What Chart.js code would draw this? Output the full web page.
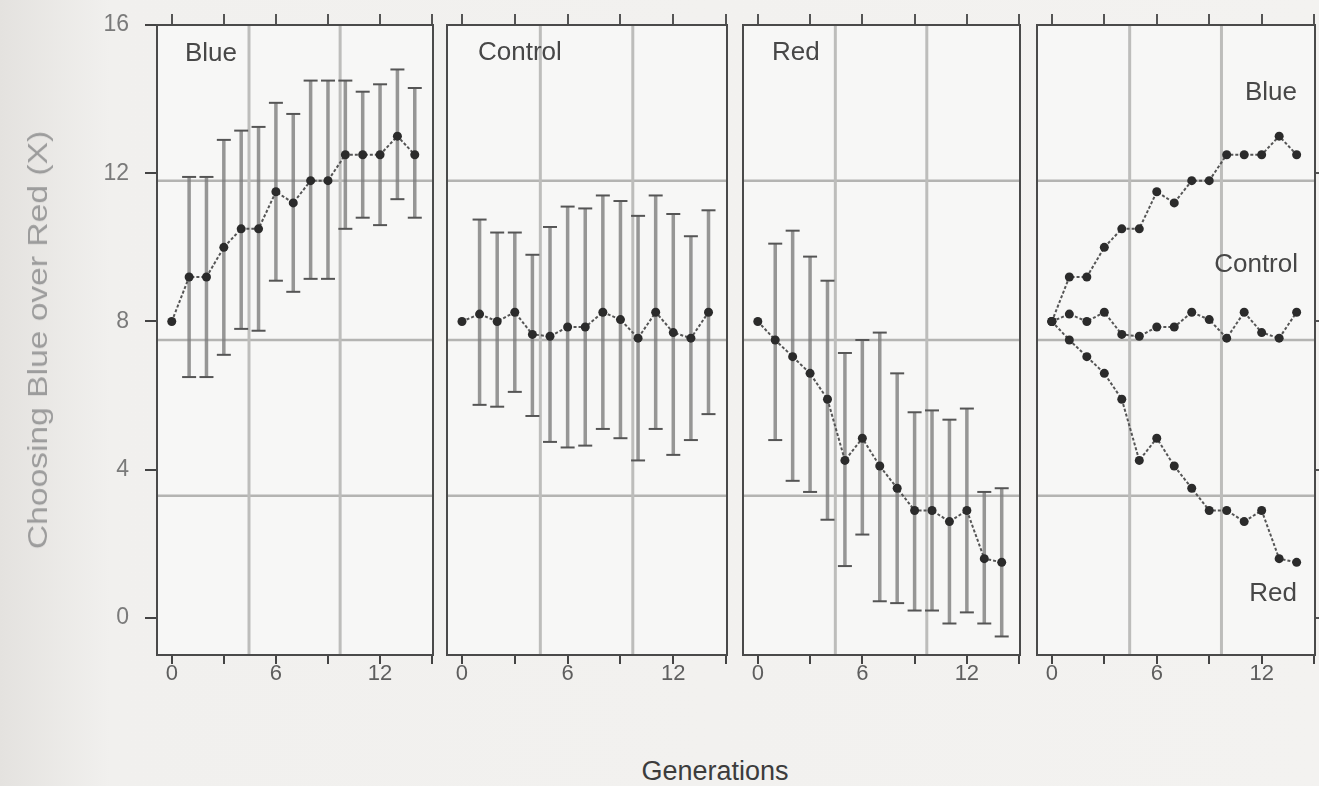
<!DOCTYPE html>
<html lang="en">
<head>
<meta charset="UTF-8">
<title>Choosing Blue over Red across generations</title>
<script src="https://cdn.jsdelivr.net/npm/chart.js"></script>
<style>
  body { margin: 0; padding: 0; width: 1319px; height: 786px; overflow: hidden;
         background: linear-gradient(to right, #e4e2df 0px, #f1f0ee 110px, #f3f2f0 100%);
         font-family: "Liberation Sans", Arial, sans-serif; }
  canvas { position: absolute; top: 0; }
  #yTitle { position: absolute; left: 38px; top: 340px; white-space: nowrap;
            font-size: 28px; color: #9c9c9c;
            transform: translate(-50%, -50%) rotate(-90deg) scaleX(1.2); }
  #xTitle { position: absolute; left: 715px; top: 771px; white-space: nowrap;
            font-size: 27px; color: #3c3c3c; transform: translate(-50%, -50%); }
</style>
</head>
<body>
<canvas id="p1" width="445" height="700" style="left:0px"></canvas>
<canvas id="p2" width="300" height="700" style="left:437px"></canvas>
<canvas id="p3" width="297" height="700" style="left:733px"></canvas>
<canvas id="p4" width="300" height="700" style="left:1027px"></canvas>
<div id="yTitle">Choosing Blue over Red (X)</div>
<div id="xTitle">Generations</div>

<script>
// generations 0..14
const generations = [0, 1, 2, 3, 4, 5, 6, 7, 8, 9, 10, 11, 12, 13, 14];

const blueMean = [8.0, 9.2, 9.2, 10.0, 10.5, 10.5, 11.5, 11.2, 11.8, 11.8, 12.5, 12.5, 12.5, 13.0, 12.5];
const blueLo   = [null, 6.5, 6.5, 7.1, 7.8, 7.75, 9.1, 8.8, 9.15, 9.15, 10.5, 10.8, 10.6, 11.3, 10.8];
const blueHi   = [null, 11.9, 11.9, 12.9, 13.15, 13.25, 13.9, 13.6, 14.5, 14.5, 14.5, 14.2, 14.4, 14.8, 14.3];

const controlMean = [8.0, 8.2, 8.0, 8.25, 7.65, 7.6, 7.85, 7.85, 8.25, 8.05, 7.55, 8.25, 7.7, 7.55, 8.25];
const controlLo   = [null, 5.75, 5.7, 6.1, 5.45, 4.75, 4.6, 4.65, 5.1, 4.85, 4.25, 5.1, 4.4, 4.8, 5.5];
const controlHi   = [null, 10.75, 10.4, 10.4, 9.8, 10.55, 11.1, 11.05, 11.4, 11.25, 10.85, 11.4, 10.9, 10.3, 11.0];

const redMean = [8.0, 7.5, 7.05, 6.6, 5.9, 4.25, 4.85, 4.1, 3.5, 2.9, 2.9, 2.6, 2.9, 1.6, 1.5];
const redLo   = [null, 4.8, 3.7, 3.4, 2.65, 1.4, 2.25, 0.45, 0.4, 0.2, 0.2, -0.15, 0.15, -0.15, -0.5];
const redHi   = [null, 10.1, 10.45, 9.75, 9.1, 7.15, 7.5, 7.7, 6.6, 5.55, 5.6, 5.35, 5.65, 3.4, 3.5];

// axis ticks
const xTicks = [0, 3, 6, 9, 12, 15];
const xLabelled = [0, 6, 12];
const yTicks = [0, 4, 8, 12, 16];
const yRightTicks = [0, 4, 8, 12];

// reference lines crossing every panel
const hRefLines = [11.8, 7.5, 3.3];
const vRefLines = [4.45, 9.7];

const FONT = '"Liberation Sans", Arial, sans-serif';
const INK = '#444';

function toPoints(values) {
    return generations.map((g, i) => ({ x: g, y: values[i] }));
}

function meanDataset(values) {
    return {
        data: toPoints(values),
        borderColor: '#555',
        borderWidth: 2,
        borderDash: [3, 2],
        pointRadius: 4.5,
        pointBackgroundColor: '#2b2b2b',
        pointBorderColor: '#2b2b2b',
        pointBorderWidth: 0,
        tension: 0
    };
}

const backdrop = {
    id: 'backdrop',
    beforeDraw(chart) {
        const { ctx, chartArea: a, scales } = chart;
        ctx.save();
        ctx.fillStyle = '#f7f7f6';
        ctx.fillRect(a.left, a.top, a.right - a.left, a.bottom - a.top);
        // reference lines
        ctx.strokeStyle = '#b4b4b2';
        ctx.lineWidth = 2.5;
        hRefLines.forEach(v => {
            const y = scales.y.getPixelForValue(v);
            ctx.beginPath(); ctx.moveTo(a.left, y); ctx.lineTo(a.right, y); ctx.stroke();
        });
        ctx.strokeStyle = '#bdbdbb';
        ctx.lineWidth = 3;
        vRefLines.forEach(v => {
            const x = scales.x.getPixelForValue(v);
            ctx.beginPath(); ctx.moveTo(x, a.top); ctx.lineTo(x, a.bottom); ctx.stroke();
        });
        ctx.restore();
    },
    beforeDatasetsDraw(chart) {
        const { ctx, chartArea: a } = chart;
        ctx.save();
        ctx.strokeStyle = '#4a4a4a';
        ctx.lineWidth = 2;
        ctx.strokeRect(a.left, a.top, a.right - a.left, a.bottom - a.top);
        ctx.restore();
    }
};

function errorBars(lo, hi) {
    return {
        id: 'errorBars',
        beforeDatasetsDraw(chart) {
            const { ctx, scales } = chart;
            ctx.save();
            generations.forEach((g, i) => {
                if (lo[i] == null) return;
                const x = scales.x.getPixelForValue(g);
                const y1 = scales.y.getPixelForValue(lo[i]);
                const y2 = scales.y.getPixelForValue(hi[i]);
                ctx.strokeStyle = 'rgba(125,125,125,0.8)';
                ctx.lineWidth = 3.5;
                ctx.beginPath(); ctx.moveTo(x, y1); ctx.lineTo(x, y2); ctx.stroke();
                ctx.strokeStyle = '#555';
                ctx.lineWidth = 2;
                [y1, y2].forEach(y => {
                    ctx.beginPath(); ctx.moveTo(x - 7, y); ctx.lineTo(x + 7, y); ctx.stroke();
                });
            });
            ctx.restore();
        }
    };
}

function panelText(labels) {
    return {
        id: 'panelText',
        afterDatasetsDraw(chart) {
            const { ctx, chartArea: a } = chart;
            ctx.save();
            ctx.font = '26px ' + FONT;
            ctx.fillStyle = '#474747';
            ctx.textBaseline = 'middle';
            labels.forEach(l => {
                if (l.align === 'right') {
                    ctx.textAlign = 'right';
                    ctx.fillText(l.text, a.right - l.dx, a.top + l.dy);
                } else {
                    ctx.textAlign = 'left';
                    ctx.fillText(l.text, a.left + l.dx, a.top + l.dy);
                }
            });
            ctx.restore();
        }
    };
}

function setTicks(list) {
    return scale => { scale.ticks = list.map(v => ({ value: v })); };
}

function makePanel(id, datasets, plugins, opt) {
    const scales = {
        x: {
            type: 'linear', position: 'bottom', min: -0.85, max: 15.05,
            afterBuildTicks: setTicks(xTicks),
            afterFit: s => { s.height = 45; s.paddingLeft = 0; s.paddingRight = 0; },
            grid: { drawOnChartArea: false, drawTicks: true, tickLength: 9, color: INK, lineWidth: 2 },
            border: { display: true, color: INK, width: 2 },
            ticks: {
                color: '#5e5e5e', font: { size: 22, family: FONT }, padding: -3,
                maxRotation: 0, autoSkip: false,
                callback: v => xLabelled.includes(v) ? String(v) : ''
            }
        },
        xTop: {
            type: 'linear', position: 'top', min: -0.85, max: 15.05,
            afterBuildTicks: setTicks(xTicks),
            afterFit: s => { s.height = 25; s.paddingLeft = 0; s.paddingRight = 0; },
            grid: { drawOnChartArea: false, drawTicks: true, tickLength: 11, color: '#555', lineWidth: 2 },
            border: { display: true, color: INK, width: 2 },
            ticks: { display: false }
        },
        y: {
            type: 'linear', min: -1, max: 16,
            afterBuildTicks: setTicks(yTicks),
            display: false
        }
    };
    if (opt.yLeft) {
        Object.assign(scales.y, {
            display: true, position: 'left',
            afterFit: s => { s.width = 157; s.paddingTop = 0; s.paddingBottom = 0; },
            grid: { drawOnChartArea: false, drawTicks: true, tickLength: 12, color: INK, lineWidth: 2 },
            border: { display: true, color: INK, width: 2 },
            ticks: { color: '#7a7a7a', font: { size: 23, family: FONT }, padding: 16 }
        });
    }
    if (opt.yRight) {
        Object.assign(scales.y, {
            display: true, position: 'right',
            afterBuildTicks: setTicks(yRightTicks),
            afterFit: s => { s.width = 12; s.paddingTop = 0; s.paddingBottom = 0; },
            grid: { drawOnChartArea: false, drawTicks: true, tickLength: 8, color: '#555', lineWidth: 2 },
            border: { display: true, color: INK, width: 2 },
            ticks: { display: false }
        });
    }
    return new Chart(document.getElementById(id), {
        type: 'line',
        data: { datasets: datasets },
        options: {
            responsive: false,
            animation: false,
            devicePixelRatio: 1,
            layout: { padding: opt.padding },
            scales: scales,
            plugins: { legend: { display: false }, tooltip: { enabled: false }, title: { display: false } }
        },
        plugins: [backdrop].concat(plugins)
    });
}

makePanel('p1', [meanDataset(blueMean)],
    [errorBars(blueLo, blueHi), panelText([{ text: 'Blue', dx: 28, dy: 29 }])],
    { yLeft: true, padding: { left: 0, right: 12, top: 0, bottom: 0 } });

makePanel('p2', [meanDataset(controlMean)],
    [errorBars(controlLo, controlHi), panelText([{ text: 'Control', dx: 31, dy: 28 }])],
    { padding: { left: 10, right: 10, top: 0, bottom: 0 } });

makePanel('p3', [meanDataset(redMean)],
    [errorBars(redLo, redHi), panelText([{ text: 'Red', dx: 29, dy: 28 }])],
    { padding: { left: 10, right: 10, top: 0, bottom: 0 } });

makePanel('p4', [meanDataset(blueMean), meanDataset(controlMean), meanDataset(redMean)],
    [panelText([
        { text: 'Blue', align: 'right', dx: 18, dy: 68 },
        { text: 'Control', align: 'right', dx: 17, dy: 240 },
        { text: 'Red', align: 'right', dx: 18, dy: 569 }
    ])],
    { yRight: true, padding: { left: 10, right: 0, top: 0, bottom: 0 } });
</script>
</body>
</html>
